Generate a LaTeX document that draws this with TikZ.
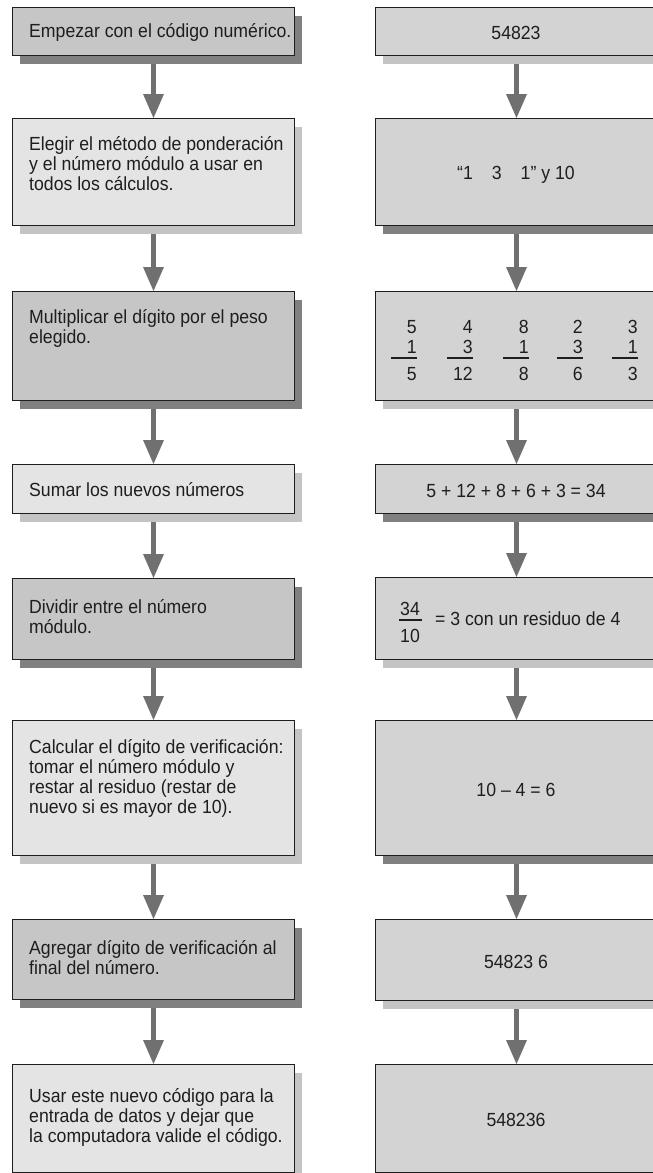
\documentclass[tikz,border=0pt]{standalone}
\usepackage{fontspec}
\setmainfont{Liberation Sans}[FakeStretch=0.93]
\usetikzlibrary{arrows.meta,shadows,calc}
\definecolor{bdark}{HTML}{C6C6C6}
\definecolor{blight}{HTML}{E4E4E4}
\definecolor{bright}{HTML}{D3D3D3}
\definecolor{sdark}{HTML}{808080}
\definecolor{slight}{HTML}{C4C4C4}
\definecolor{arr}{HTML}{707070}
\definecolor{ink}{HTML}{1E1E1E}
\begin{document}
\begin{tikzpicture}[x=1pt,y=-1pt,
  boxbase/.style={draw=ink, line width=1pt, inner sep=0pt, anchor=north west, minimum width=282pt},
  shd/.style={drop shadow={shadow xshift=7pt, shadow yshift=-8pt, fill=#1, opacity=1}},
  lt/.style={inner sep=0pt, align=left, anchor=north west, text=ink, font=\fontsize{19}{20}\selectfont},
  rt/.style={inner sep=0pt, anchor=base, text=ink, font=\fontsize{19}{20}\selectfont},
  fl/.style={draw=ink, line width=1.1pt},
  flow/.style={draw=arr, line width=5.5pt, -{Triangle[width=21pt,length=24pt,line width=0pt]}}
]
\useasboundingbox (0,0) rectangle (653,1173);
\clip (0,0) rectangle (653,1173);

% ---------- left column boxes ----------
\node[boxbase, fill=bdark, shd=sdark, minimum height=48pt] (L1) at (12,7) {};
\node[boxbase, fill=blight, shd=slight, minimum height=107pt] (L2) at (12,118) {};
\node[boxbase, fill=bdark, shd=sdark, minimum height=109pt] (L3) at (12,291) {};
\node[boxbase, fill=blight, shd=slight, minimum height=49pt] (L4) at (12,464) {};
\node[boxbase, fill=bdark, shd=sdark, minimum height=81pt] (L5) at (12,578) {};
\node[boxbase, fill=blight, shd=slight, minimum height=135pt] (L6) at (12,720) {};
\node[boxbase, fill=bdark, shd=sdark, minimum height=80pt] (L7) at (12,919) {};
\node[boxbase, fill=blight, shd=slight, minimum height=108pt] (L8) at (12,1064) {};

% ---------- right column boxes ----------
\node[boxbase, fill=bright, shd=slight, minimum height=48pt] (R1) at (375,7) {};
\node[boxbase, fill=bright, shd=sdark, minimum height=107pt] (R2) at (375,118) {};
\node[boxbase, fill=bright, shd=slight, minimum height=109pt] (R3) at (375,291) {};
\node[boxbase, fill=bright, shd=sdark, minimum height=49pt] (R4) at (375,464) {};
\node[boxbase, fill=bright, shd=slight, minimum height=82pt] (R5) at (375,577) {};
\node[boxbase, fill=bright, shd=sdark, minimum height=135pt] (R6) at (375,720) {};
\node[boxbase, fill=bright, shd=slight, minimum height=81pt] (R7) at (375,919) {};
\node[boxbase, fill=bright, shd=sdark, minimum height=108pt] (R8) at (375,1064) {};

% ---------- left texts ----------
\node[lt] (T1) at (29,37-17) {\rule{0pt}{17pt}Empezar con el código numérico.};
\node[lt] (T2) at (29,150-17) {\rule{0pt}{17pt}Elegir el método de ponderación\\y el número módulo a usar en\\todos los cálculos.};
\node[lt] (T3) at (29,323-17) {\rule{0pt}{17pt}Multiplicar el dígito por el peso\\elegido.};
\node[lt] (T4) at (29,496-17) {\rule{0pt}{17pt}Sumar los nuevos números};
\node[lt] (T5) at (29,613-17) {\rule{0pt}{17pt}Dividir entre el número\\módulo.};
\node[lt] (T6) at (29,753-17) {\rule{0pt}{17pt}Calcular el dígito de verificación:\\tomar el número módulo y\\restar al residuo (restar de\\nuevo si es mayor de 10).};
\node[lt] (T7) at (29,954-17) {\rule{0pt}{17pt}Agregar dígito de verificación al\\final del número.};
\node[lt] (T8) at (29,1102-17) {\rule{0pt}{17pt}Usar este nuevo código para la\\entrada de datos y dejar que\\la computadora valide el código.};

% ---------- right texts ----------
\node[rt] (U1) at (516,39) {54823};
\node[rt] (U2) at (516,179) {“1\hspace{19pt}3\hspace{19pt}1” y 10};

% multiplication columns
\foreach \r/\a/\b/\c [count=\i] in {417/5/1/5, 473/4/3/12, 529/8/1/8, 583/2/3/6, 638/3/1/3}{
  \node[rt, anchor=base east] (MA\i) at (\r,333) {\a};
  \node[rt, anchor=base east] (MB\i) at (\r,353) {\b};
  \node[rt, anchor=base east] (MC\i) at (\r,380) {\c};
  \coordinate (ML\i) at (\r-26,358);
  \coordinate (MR\i) at (\r,358);
  \draw[fl] (ML\i) -- (MR\i);
}

\node[rt] (U4) at (516,497) {5 + 12 + 8 + 6 + 3 = 34};

\node[rt] (F1) at (410,615) {34};
\node[rt] (F2) at (410,642) {10};
\coordinate (FL) at (399,620);
\coordinate (FR) at (422,620);
\draw[fl] (FL) -- (FR);
\node[rt, anchor=base west] (U5) at (435,625) {= 3 con un residuo de 4};

\node[rt] (U6) at (516,796) {10 – 4 = 6};
\node[rt] (U7) at (516,968) {54823 6};
\node[rt] (U8) at (516,1126) {548236};

% ---------- arrows ----------
\foreach \a/\b in {1/2,2/3,3/4,4/5,5/6,6/7,7/8}{
  \draw[flow] ($(L\a.south)+(0,8)$) -- (L\b.north);
  \draw[flow] ($(R\a.south)+(0,8)$) -- (R\b.north);
}
\end{tikzpicture}
\end{document}
